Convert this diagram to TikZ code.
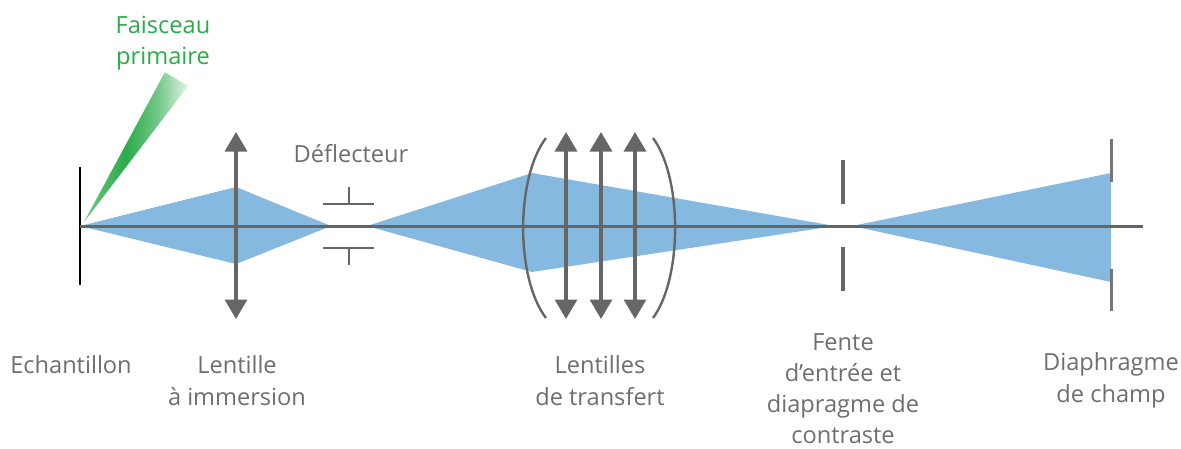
\documentclass[tikz,border=0pt]{standalone}
\usepackage{fontspec}
\setmainfont{Open Sans}
\usetikzlibrary{arrows.meta}
\definecolor{beamblue}{HTML}{85B9E0}
\definecolor{opticgray}{HTML}{666664}
\definecolor{labelgray}{HTML}{6E6E6E}
\definecolor{beamgreen}{HTML}{2BAB4A}
\pgfdeclarehorizontalshading{primarybeam}{100bp}{
  color(0bp)=(beamgreen!10!white);
  color(25bp)=(beamgreen!10!white);
  color(36bp)=(beamgreen!70!white);
  color(50bp)=(beamgreen);
  color(62bp)=(beamgreen!65!white);
  color(75bp)=(beamgreen!3!white);
  color(100bp)=(beamgreen!3!white)}
\tikzset{
  lbl/.style={font=\fontsize{23.6}{31.5}\selectfont,text=labelgray,align=center,inner sep=0pt,anchor=center},
  lblb/.style={lbl,font=\fontsize{23.6}{31}\selectfont},
  cone/.style={fill=beamblue,draw=none},
  lensarrow/.style={draw=opticgray,line width=3.2pt,{Triangle[width=22pt,length=19.5pt]}-{Triangle[width=22pt,length=19.5pt]}},
  axisline/.style={draw=opticgray,line width=3pt},
  plate/.style={draw=opticgray,line width=2pt},
  bracket/.style={draw=opticgray,line width=2.4pt},
  slit/.style={draw=opticgray,line width=4.5pt},
  stopbar/.style={draw=opticgray!90!white,line width=2.4pt}
}
\begin{document}
\begin{tikzpicture}[x=1pt,y=-1pt]
\useasboundingbox (0,0) rectangle (1181,448);
% primary beam
\begin{scope}
  \clip (84,222) -- (165,72) -- (188,86) -- cycle;
  \begin{scope}[shift={(84,222)},rotate=60.5]
    \shade[shading=primarybeam] (0,-30) rectangle (170,30);
  \end{scope}
\end{scope}
% cones
\coordinate (s) at (80,226);
\fill[cone] (s) -- (236,187) -- (331,226) -- (236,264) -- cycle;
\fill[cone] (367,226) -- (532,173) -- (835,226) -- (532,272) -- cycle;
\fill[cone] (852,226) -- (1111,173) -- (1111,282) -- cycle;
% sample
\coordinate (st) at (80,167);
\coordinate (sb) at (80,285);
\draw[black,line width=2pt] (st) -- (sb);
% axis
\coordinate (axisend) at (1143,226);
\draw[axisline] (s) -- (axisend);
% immersion lens
\coordinate (l1t) at (236,132);
\coordinate (l1b) at (236,319);
\draw[lensarrow] (l1t) -- (l1b);
% deflector
\coordinate (d1l) at (323,203.5);
\coordinate (d1r) at (374,203.5);
\coordinate (d1s) at (348.5,187);
\coordinate (d1m) at (348.5,203.5);
\coordinate (d2l) at (323,247.5);
\coordinate (d2r) at (374,247.5);
\coordinate (d2s) at (348.5,265);
\coordinate (d2m) at (348.5,247.5);
\draw[plate] (d1l) -- (d1r);
\draw[plate] (d1m) -- (d1s);
\draw[plate] (d2l) -- (d2r);
\draw[plate] (d2m) -- (d2s);
% transfer lenses
\foreach \n/\x in {a/566,b/601,c/635}{
  \coordinate (t\n t) at (\x,132);
  \coordinate (t\n b) at (\x,319);
  \draw[lensarrow] (t\n t) -- (t\n b);
}
\coordinate (bl1) at (546,138);
\coordinate (bl2) at (546,318);
\coordinate (br1) at (653,138);
\coordinate (br2) at (653,318);
\draw[bracket] (bl1) .. controls (515.5,178) and (515.5,278) .. (bl2);
\draw[bracket] (br1) .. controls (682.5,178) and (682.5,278) .. (br2);
% entrance slit
\coordinate (f1t) at (843,160);
\coordinate (f1b) at (843,204);
\coordinate (f2t) at (843,247);
\coordinate (f2b) at (843,291);
\draw[slit] (f1t) -- (f1b);
\draw[slit] (f2t) -- (f2b);
% field stop
\coordinate (g1t) at (1111.5,139);
\coordinate (g1b) at (1111.5,182);
\coordinate (g2t) at (1111.5,269);
\coordinate (g2b) at (1111.5,311);
\draw[stopbar] (g1t) -- (g1b);
\draw[stopbar] (g2t) -- (g2b);
% labels
\node[lbl,text=beamgreen] (faisceau) at (163,43) {Faisceau\\primaire};
\node[lbl] (deflecteur) at (351,154) {Déflecteur};
\node[lbl] (echantillon) at (71,365) {Echantillon};
\node[lbl] (lentille) at (237,380.5) {Lentille\\à immersion};
\node[lbl] (transfert) at (600,380.5) {Lentilles\\de transfert};
\node[lblb] (fente) at (843,388.5) {Fente\\d’entrée et\\diapragme de\\contraste};
\node[lbl] (diaphragme) at (1111,380.5) {Diaphragme\\de champ};
\end{tikzpicture}
\end{document}
